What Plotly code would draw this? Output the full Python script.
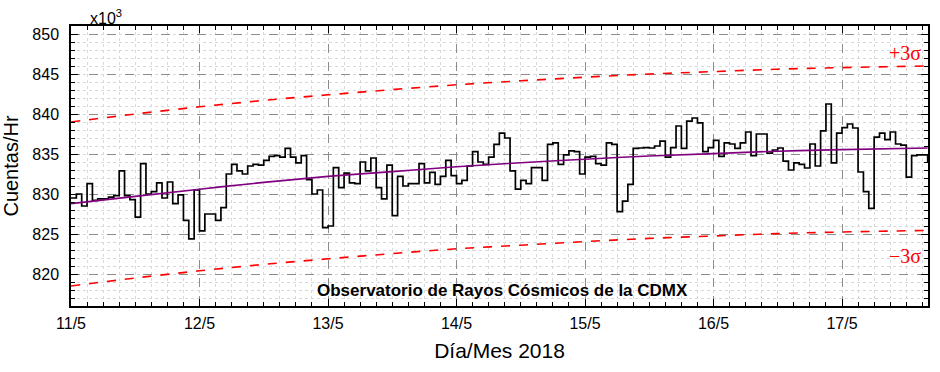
import plotly.graph_objects as go

# Hourly counts (x10^3 counts/hr), starting 11/5/2018 00:00
counts = [
    829.5, 830.0, 828.5, 831.3, 829.2, 829.4, 829.4, 829.6, 829.8, 832.9,
    829.8, 829.3, 827.1, 833.8, 830.0, 830.3, 831.4, 829.5, 831.5, 828.8,
    829.9, 826.7, 824.4, 830.5, 825.4,
    827.5, 827.5, 826.7, 828.3, 832.5, 833.7, 832.9, 832.5, 833.5, 833.7,
    833.6, 834.2, 834.7, 834.8, 834.6, 835.7, 834.6, 833.9, 834.8, 831.8,
    830.0, 830.5, 825.8, 826.0, 833.3, 830.8,
    832.6, 831.4, 831.3, 834.0, 832.9, 834.5, 830.8, 829.4, 833.6, 827.3,
    832.2, 831.0, 831.3, 831.3, 833.8, 831.4, 832.7, 831.2, 832.2, 834.2,
    832.3, 831.3, 831.7, 833.5, 835.3, 834.0, 833.7,
    834.6, 836.2, 837.6, 837.0, 832.9, 830.6, 831.7, 831.3, 833.3, 833.3,
    831.7, 836.2, 836.4, 833.7, 834.9, 835.4, 835.3, 832.5, 834.6, 834.7,
    833.8, 833.6, 836.4, 836.2, 827.8, 829.1, 831.2,
    835.7, 835.75, 835.8, 835.75, 836.0, 836.6, 834.6, 835.8, 838.5, 835.7,
    839.1, 839.5, 838.9, 835.3, 835.8, 836.7, 834.7, 836.4, 836.25, 835.7,
    836.4, 837.75, 834.8, 837.5, 837.5, 835.1, 835.5,
    835.75, 834.1, 833.0, 833.9, 833.7, 833.25, 836.25, 833.5, 837.9, 841.25,
    833.9, 837.6, 838.3, 838.75, 838.25, 832.75, 830.3, 828.2, 837.1, 837.6,
    836.8, 837.75, 836.25, 836.1, 832.1, 834.8, 834.9, 834.9, 834.0,
]
hours = list(range(len(counts)))

# Fitted trend and +/-3 sigma bands, read at these hours
curve_hours = [0, 12, 24, 36, 48, 60, 72, 84, 96, 108, 120, 132, 144, 160]
trend = [828.8, 829.7, 830.6, 831.45, 832.2, 832.8, 833.4, 833.9, 834.35,
         834.75, 835.05, 835.35, 835.55, 835.75]
upper = [839.0, 840.0, 840.9, 841.7, 842.4, 843.05, 843.65, 844.15, 844.6,
         845.0, 845.3, 845.6, 845.8, 846.0]
lower = [818.5, 819.5, 820.4, 821.2, 821.9, 822.55, 823.15, 823.6, 824.05,
         824.45, 824.75, 825.05, 825.25, 825.45]

day_ticks = [0, 24, 48, 72, 96, 120, 144]
day_labels = ["11/5", "12/5", "13/5", "14/5", "15/5", "16/5", "17/5"]
y_ticks = [820, 825, 830, 835, 840, 845, 850]

step_x = hours + [hours[-1] + 1]
step_y = counts + [counts[-1]]

fig = go.Figure()
fig.add_trace(go.Scatter(x=curve_hours, y=upper, mode="lines",
                         line=dict(color="#ff0000", width=1.6, dash="dash", shape="spline")))
fig.add_trace(go.Scatter(x=curve_hours, y=lower, mode="lines",
                         line=dict(color="#ff0000", width=1.6, dash="dash", shape="spline")))
fig.add_trace(go.Scatter(x=step_x, y=step_y, mode="lines",
                         line=dict(color="black", width=1.7, shape="hv")))
fig.add_trace(go.Scatter(x=curve_hours, y=trend, mode="lines",
                         line=dict(color="#800080", width=1.6, shape="spline")))

font = "Liberation Sans, Arial, sans-serif"
fig.update_layout(
    width=940, height=372,
    margin=dict(l=71, r=12, t=26, b=66),
    plot_bgcolor="white", paper_bgcolor="white",
    showlegend=False,
    font=dict(family=font, size=16, color="black"),
)
fig.update_xaxes(
    range=[0, 160.06], automargin=False,
    tickmode="array", tickvals=day_ticks, ticktext=day_labels,
    showline=True, linecolor="black", linewidth=1.5, mirror="ticks",
    ticks="inside", ticklen=7, tickwidth=1.3, tickcolor="black",
    showgrid=True, gridcolor="#8c8c8c", gridwidth=1, griddash="dash",
    minor=dict(dtick=3, tick0=0, ticks="inside", ticklen=4, tickcolor="black",
               showgrid=True, gridcolor="#d9d9d9", gridwidth=1, griddash="dot"),
    tickfont=dict(size=16), ticklabelstandoff=2,
    zeroline=False,
    title=dict(text="Día/Mes 2018", font=dict(size=21), standoff=12),
)
fig.update_yaxes(
    range=[816, 851], automargin=False,
    tickmode="array", tickvals=y_ticks,
    showline=True, linecolor="black", linewidth=1.5, mirror="ticks",
    ticks="inside", ticklen=7, tickwidth=1.3, tickcolor="black",
    showgrid=True, gridcolor="#8c8c8c", gridwidth=1, griddash="dash",
    minor=dict(dtick=1, tick0=0, ticks="inside", ticklen=4, tickcolor="black",
               showgrid=True, gridcolor="#d9d9d9", gridwidth=1, griddash="dot"),
    tickfont=dict(size=16), ticklabelstandoff=7,
    zeroline=False,
    title=dict(text="Cuentas/Hr", font=dict(size=20), standoff=8),
)

fig.add_annotation(text="x10<sup>3</sup>", xref="paper", yref="paper",
                   x=0.02, y=1.0, xanchor="left", yanchor="bottom",
                   showarrow=False, font=dict(size=16), yshift=-3)
fig.add_annotation(text="Observatorio de Rayos Cósmicos de la CDMX",
                   xref="paper", yref="y", x=0.504, y=818.0,
                   xanchor="center", yanchor="middle", showarrow=False,
                   font=dict(size=17, family=font, weight="bold"))
fig.add_annotation(text="+3σ", xref="x", yref="y", x=159.2, y=847.6,
                   xanchor="right", yanchor="middle", showarrow=False,
                   font=dict(size=20, color="#ff0000",
                             family="Liberation Serif, Times New Roman, serif"))
fig.add_annotation(text="\u22123σ", xref="x", yref="y", x=159.2, y=822.3,
                   xanchor="right", yanchor="middle", showarrow=False,
                   font=dict(size=20, color="#ff0000",
                             family="Liberation Serif, Times New Roman, serif"))

fig.write_html("out.html",
               config={"displayModeBar": False},
               post_script="document.body.style.margin='0';"
                           "document.body.style.padding='0';")
